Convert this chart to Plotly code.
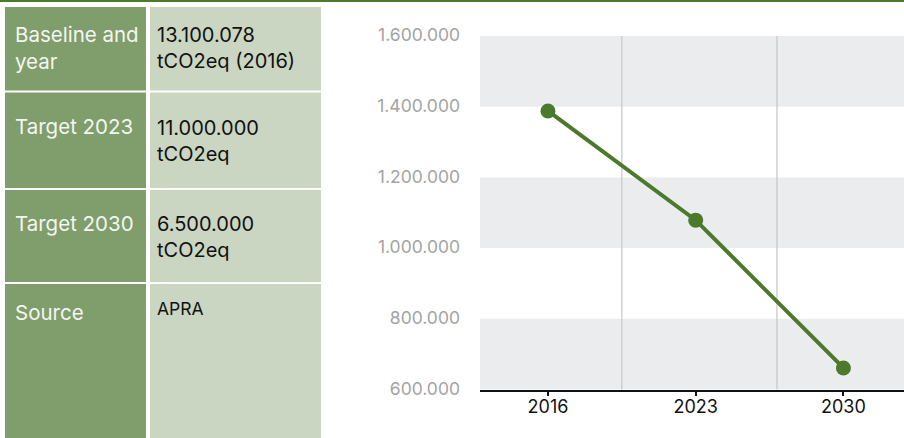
import plotly.graph_objects as go

# ---- data ----
years = ["2016", "2023", "2030"]
emissions = [1388000, 1079000, 661000]
y_ticks = [600000, 800000, 1000000, 1200000, 1400000, 1600000]
y_tick_text = ["600.000", "800.000", "1.000.000", "1.200.000", "1.400.000", "1.600.000"]
band_ranges = [(600000, 800000), (1000000, 1200000), (1400000, 1600000)]

row_labels = ["Baseline and<br>year", "Target 2023", "Target 2030", "Source"]
row_values = ["13.100.078<br>tCO2eq (2016)", "11.000.000<br>tCO2eq", "6.500.000<br>tCO2eq", "APRA"]

W, H = 904, 438
FONT = "Inter"
GREEN_DARK = "#4b7a2c"
GREEN_MID = "#809d6c"
GREEN_LIGHT = "#cad6c1"


def px(x):
    return x / W


def py(y):
    return 1 - y / H


fig = go.Figure()
fig.add_trace(go.Scatter(
    x=list(range(len(years))), y=emissions, mode="lines+markers",
    line=dict(color=GREEN_DARK, width=4),
    marker=dict(color=GREEN_DARK, size=15),
    hoverinfo="skip", showlegend=False,
))

shapes = []
# alternating bands
for lo, hi in band_ranges:
    shapes.append(dict(type="rect", xref="x domain", yref="y", x0=0, x1=1, y0=lo, y1=hi,
                       fillcolor="#ebecee", line=dict(width=0), layer="below"))
# vertical separators
for xv in [0.5, 1.55]:
    shapes.append(dict(type="line", xref="x", yref="y domain", x0=xv, x1=xv, y0=0, y1=1,
                       line=dict(color="#c6c7c9", width=1.2), layer="below"))

# top bar
shapes.append(dict(type="rect", xref="paper", yref="paper", x0=0, x1=1, y0=py(2), y1=1,
                   fillcolor=GREEN_DARK, line=dict(width=0)))
# table cells (pixel rows)
rows = [(7, 90.5), (92.5, 188), (190, 282), (284, 440)]
for (t, b) in rows:
    shapes.append(dict(type="rect", xref="paper", yref="paper", x0=px(5), x1=px(146),
                       y0=py(b), y1=py(t), fillcolor=GREEN_MID, line=dict(width=0)))
    shapes.append(dict(type="rect", xref="paper", yref="paper", x0=px(150), x1=px(321),
                       y0=py(b), y1=py(t), fillcolor=GREEN_LIGHT, line=dict(width=0)))

annotations = []
left_centers = [48, 126, 223, 312.5]
right_centers = [48, 141, 237, 308.5]
for i, lab in enumerate(row_labels):
    annotations.append(dict(xref="paper", yref="paper", x=px(13), y=py(left_centers[i]),
                            xanchor="left", yanchor="middle", align="left", showarrow=False,
                            text=lab, font=dict(family=FONT, size=20.5, color="#f4f6f1")))
for i, val in enumerate(row_values):
    size = 17.5 if val == "APRA" else 20
    annotations.append(dict(xref="paper", yref="paper", x=px(155), y=py(right_centers[i]),
                            xanchor="left", yanchor="middle", align="left", showarrow=False,
                            text=val, font=dict(family=FONT, size=size, color="#111111")))

fig.update_layout(
    width=W, height=H, autosize=False,
    margin=dict(l=0, r=0, t=0, b=0),
    paper_bgcolor="white", plot_bgcolor="white",
    shapes=shapes, annotations=annotations,
    xaxis=dict(domain=[px(480), 1], range=[-0.46, 2.41],
               tickmode="array", tickvals=list(range(len(years))), ticktext=years,
               showgrid=False, zeroline=False,
               showline=True, linecolor="#111111", linewidth=2,
               ticks="outside", ticklen=4, tickwidth=2, tickcolor="#111111",
               ticklabelstandoff=-4,
               tickfont=dict(family=FONT, size=18, color="#111111"), automargin=False),
    yaxis=dict(domain=[py(389.5), py(36)], range=[600000, 1600000],
               tickmode="array", tickvals=y_ticks, ticktext=y_tick_text,
               showgrid=False, zeroline=False, showline=False, ticks="",
               ticklabelstandoff=19, ticklabelshift=-1,
               tickfont=dict(family=FONT, size=17.5, color="#a3a3a3"), automargin=False),
)

fig.write_html(
    "out.html",
    config={"displayModeBar": False, "staticPlot": True},
    post_script="document.body.style.margin='0';document.body.style.padding='0';"
                "document.documentElement.style.overflow='hidden';",
)
